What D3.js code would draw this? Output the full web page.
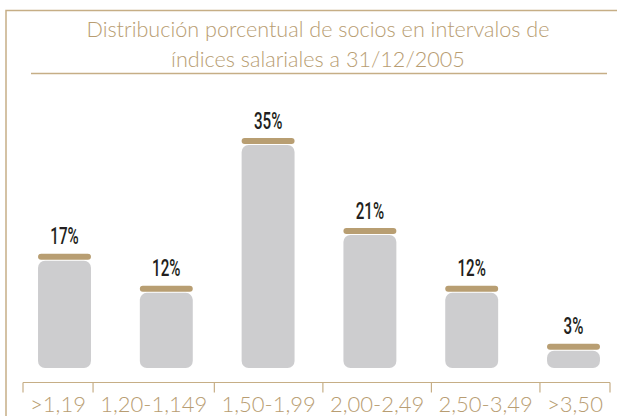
<!DOCTYPE html>
<html>
<head>
<meta charset="utf-8">
<script src="https://cdn.jsdelivr.net/npm/d3@7"></script>
<style>
  html, body { margin: 0; padding: 0; background: #fff; }
  svg { display: block; }
</style>
</head>
<body>
<div id="chart"></div>
<script>
// data
const titleLines = ["Distribución porcentual de socios en intervalos de", "índices salariales a 31/12/2005"];
const categories = [">1,19", "1,20-1,149", "1,50-1,99", "2,00-2,49", "2,50-3,49", ">3,50"];
const percents = [17, 12, 35, 21, 12, 3];

const width = 623, height = 416;
const tan = "#b89d72", frameTan = "#c6ae86", grey = "#cdcdcf", capColor = "#b89e72";

const svg = d3.select("#chart").append("svg")
  .attr("width", width).attr("height", height);

// outer frame (top and left only)
svg.append("path")
  .attr("d", "M6,416 V10.5 H617")
  .attr("fill", "none").attr("stroke", frameTan).attr("stroke-width", 1.5);

// title
svg.selectAll("text.title")
  .data(titleLines)
  .join("text")
  .attr("class", "title")
  .attr("x", 318)
  .attr("y", (d, i) => 37 + i * 30)
  .attr("text-anchor", "middle")
  .attr("font-family", "Lato, 'Open Sans', sans-serif")
  .attr("font-weight", 300)
  .attr("font-size", 21.6)
  .attr("fill", tan)
  .text(d => d);

svg.append("line")
  .attr("x1", 31).attr("x2", 607).attr("y1", 73.5).attr("y2", 73.5)
  .attr("stroke", frameTan).attr("stroke-width", 1.5);

// scales
const x = d3.scalePoint().domain(categories).range([13.6, 624.4]).padding(0.5);
const barW = x.step() * 0.52;
const baseline = 368;
const y = d3.scaleLinear().domain([0, 35]).range([baseline - 5, 138]);

const bars = svg.selectAll("g.bar")
  .data(categories.map((c, i) => ({ cat: c, v: percents[i] })))
  .join("g")
  .attr("class", "bar");

// grey body
bars.append("rect")
  .attr("x", d => x(d.cat) - barW / 2)
  .attr("y", d => y(d.v) + 7)
  .attr("width", barW)
  .attr("height", d => baseline - y(d.v) - 7)
  .attr("rx", 7).attr("ry", 7)
  .attr("fill", grey);

// tan cap
bars.append("rect")
  .attr("x", d => x(d.cat) - barW / 2)
  .attr("y", d => y(d.v))
  .attr("width", barW)
  .attr("height", 6)
  .attr("rx", 3).attr("ry", 3)
  .attr("fill", capColor);

// value labels (condensed look)
bars.append("text")
  .attr("transform", d => `translate(${x(d.cat)},${y(d.v) - 9.5}) scale(0.66,1)`)
  .attr("text-anchor", "middle")
  .attr("font-family", "Roboto, sans-serif")
  .attr("font-weight", 500)
  .attr("font-size", 23)
  .attr("fill", "#231f20")
  .text(d => d.v + "%");

// axis: separators sized from label widths
const axisY = 382.5, axisL = 23, axisR = 610;
const labels = svg.append("g").selectAll("text")
  .data(categories)
  .join("text")
  .attr("font-family", "Lato, 'Open Sans', sans-serif")
  .attr("font-weight", 300)
  .attr("font-size", 22)
  .attr("fill", tan)
  .attr("text-anchor", "middle")
  .attr("y", 412)
  .text(d => d);

const widths = labels.nodes().map(n => n.getComputedTextLength());
const pad = (axisR - axisL - d3.sum(widths)) / categories.length;
const bounds = [axisL];
widths.forEach(w => bounds.push(bounds[bounds.length - 1] + w + pad));
labels.attr("x", (d, i) => (bounds[i] + bounds[i + 1]) / 2);

svg.append("line")
  .attr("x1", axisL).attr("x2", axisR).attr("y1", axisY).attr("y2", axisY)
  .attr("stroke", frameTan).attr("stroke-width", 1.2);

svg.selectAll("line.tick")
  .data(bounds)
  .join("line")
  .attr("class", "tick")
  .attr("x1", d => d).attr("x2", d => d)
  .attr("y1", axisY).attr("y2", axisY + 10)
  .attr("stroke", frameTan).attr("stroke-width", 1.2);
</script>
</body>
</html>
